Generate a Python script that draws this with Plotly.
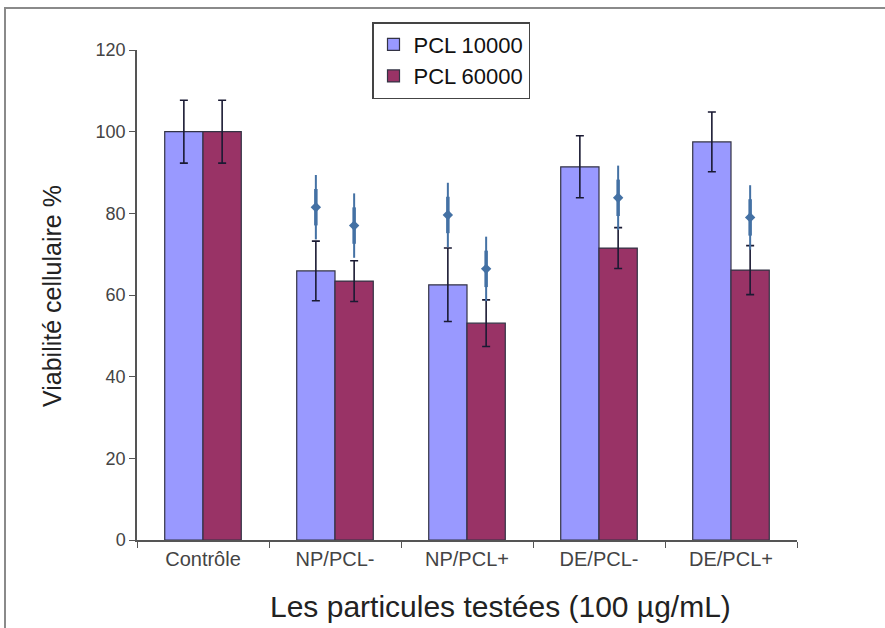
import plotly.graph_objects as go

categories = ["Contrôle", "NP/PCL-", "NP/PCL+", "DE/PCL-", "DE/PCL+"]
series_names = ["PCL 10000", "PCL 60000"]
pcl10000 = [100, 65.9, 62.5, 91.4, 97.5]
pcl10000_err = [7.7, 7.3, 9.0, 7.6, 7.3]
pcl60000 = [100, 63.4, 53.1, 71.5, 66.1]
pcl60000_err = [7.7, 5.0, 5.7, 5.0, 6.0]
star_pcl10000 = [None, 81.5, 79.6, None, None]
star_pcl60000 = [None, 77.0, 66.4, 83.8, 79.0]
y_ticks = [0, 20, 40, 60, 80, 100, 120]
x_title = "Les particules testées (100 µg/mL)"
y_title = "Viabilité cellulaire %"

colors = ["#9999FF", "#993366"]
star_color = "#4471A4"
FONT = "Liberation Sans, Arial, sans-serif"
BARGAP = 0.42

W, H = 885, 628
ML, MR, MT, MB = 137, 88, 50, 88
PW, PH = W - ML - MR, H - MT - MB

fig = go.Figure()
for name, vals, errs, col in [(series_names[0], pcl10000, pcl10000_err, colors[0]),
                              (series_names[1], pcl60000, pcl60000_err, colors[1])]:
    fig.add_trace(go.Bar(
        x=categories, y=vals, name=name,
        marker=dict(color=col, line=dict(color="#333344", width=1.2)),
        error_y=dict(type="data", array=errs, visible=True, color="#1a1a33",
                     thickness=1.6, width=4),
    ))

# significance stars on an overlaid numeric axis aligned with the bar groups
half = (1 - BARGAP) / 4
for stars, off in [(star_pcl10000, -half), (star_pcl60000, half)]:
    xs = [i + off for i, s in enumerate(stars) if s is not None]
    ys = [s for s in stars if s is not None]
    for sym, size, lw in [("line-ns", 46, 2), ("line-ns", 26, 3.5), ("diamond", 8, 0)]:
        fig.add_trace(go.Scatter(
            x=xs, y=ys, xaxis="x2", mode="markers", showlegend=False, hoverinfo="skip",
            marker=dict(symbol=sym, size=size, color=star_color,
                        line=dict(color=star_color, width=lw)),
        ))

fig.update_layout(
    width=W, height=H,
    margin=dict(l=ML, r=MR, t=MT, b=MB, autoexpand=False),
    paper_bgcolor="white", plot_bgcolor="white",
    barmode="group", bargap=BARGAP, bargroupgap=0,
    font=dict(family=FONT, color="#444444"),
    showlegend=True,
    legend=dict(
        x=(372 - ML) / PW, y=(H - MB - 22) / PH,
        xanchor="left", yanchor="top",
        bgcolor="white", bordercolor="#444444", borderwidth=1.5,
        font=dict(size=22, color="#111111", family=FONT),
        entrywidth=135, tracegroupgap=0,
    ),
    xaxis=dict(
        type="category", tickson="boundaries", ticks="outside", ticklen=6,
        tickcolor="#555555", showline=True, linecolor="#555555", linewidth=1.5,
        showgrid=False, tickfont=dict(size=20, color="#444444"), tickangle=0,
        automargin=False,
    ),
    xaxis2=dict(overlaying="x", range=[-0.5, 4.5], visible=False),
    yaxis=dict(
        range=[0, 120], tickvals=y_ticks, ticks="outside", ticklen=6,
        tickcolor="#555555", showline=True, linecolor="#555555", linewidth=1.5,
        showgrid=False, zeroline=False, tickfont=dict(size=18, color="#444444"),
        automargin=False,
    ),
    annotations=[
        dict(text=x_title, xref="paper", yref="paper",
             x=(500 - ML) / PW, y=-(606 - (H - MB)) / PH,
             xanchor="center", yanchor="middle", showarrow=False,
             font=dict(size=30, color="#222222")),
        dict(text=y_title, xref="paper", yref="paper",
             x=(52 - ML) / PW, y=(H - MB - 296) / PH, textangle=-90,
             xanchor="center", yanchor="middle", showarrow=False,
             font=dict(size=25, color="#222222")),
    ],
    shapes=[dict(type="rect", xref="paper", yref="paper",
                 x0=(5 - ML) / PW, x1=1.2, y0=-0.22, y1=(H - MB - 8) / PH,
                 line=dict(color="#8a8a8a", width=2), layer="below")],
)

fig.write_html("out.html", config={"displayModeBar": False},
               post_script="document.body.style.margin='0';")
